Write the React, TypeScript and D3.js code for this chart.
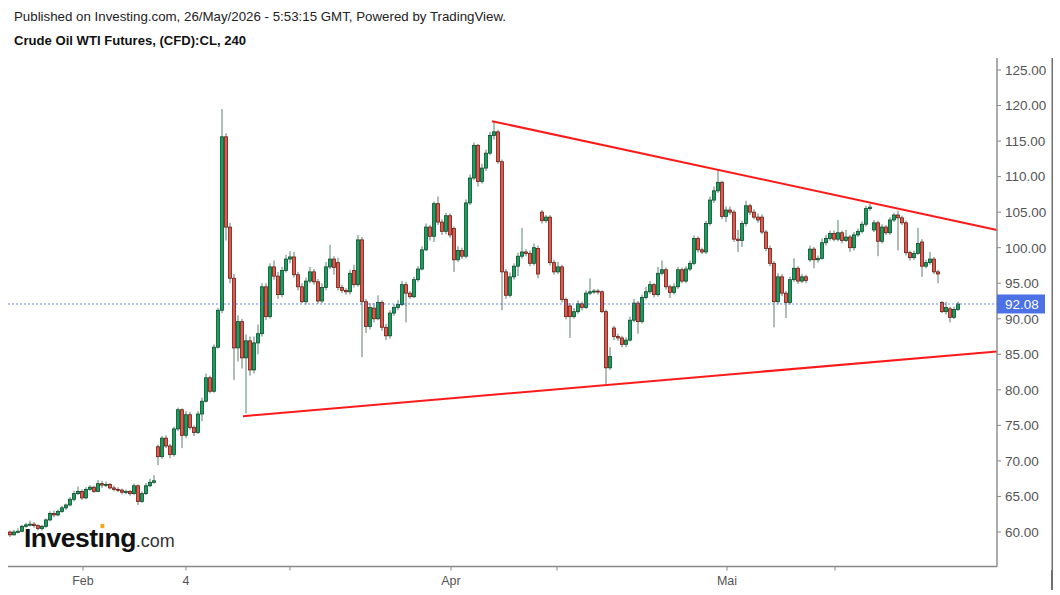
import React from "react";
import * as d3 from "d3";

// ---- Data (4-hour candles) ----
const opens = [
  60.0, 59.6, 60.0, 60.1, 60.8, 61.0, 61.1, 60.9, 60.5, 60.8, 61.7, 62.6, 62.4, 62.9, 63.4, 63.8, 64.6, 65.4, 65.7, 64.8,
  66.0, 66.3, 65.7, 66.8, 66.6, 66.7, 66.2, 66.0, 65.9, 65.6, 65.7, 65.4, 66.5, 64.3, 65.4, 66.5, 67.0, 72.0, 70.6, 73.2,
  72.1, 70.9, 74.5, 77.2, 73.6, 76.5, 74.7, 74.0, 76.6, 78.4, 81.7, 79.8, 86.0, 91.2, 115.6, 102.9, 95.7, 85.9, 89.6, 84.5,
  86.9, 82.8, 86.6, 87.9, 94.5, 90.3, 97.3, 96.0, 93.4, 96.8, 98.4, 98.7, 96.2, 94.5, 92.4, 95.3, 96.6, 95.2, 92.5, 94.4,
  97.3, 98.4, 97.9, 94.4, 94.0, 93.8, 96.8, 94.8, 101.1, 92.4, 88.9, 91.5, 90.0, 92.3, 88.8, 87.6, 90.8, 91.6, 92.0, 94.8,
  93.6, 93.1, 95.5, 97.0, 99.7, 102.9, 101.6, 106.2, 103.6, 102.3, 104.5, 102.7, 98.3, 99.6, 98.8, 106.3, 109.8, 114.4, 109.3, 111.2,
  113.3, 115.8, 116.3, 112.1, 96.6, 93.3, 95.9, 97.4, 98.8, 99.4, 99.2, 97.8, 99.9, 105.0, 103.8, 104.3, 97.9, 96.6, 97.3, 92.7,
  91.8, 90.3, 91.0, 92.1, 91.6, 93.6, 93.8, 93.9, 93.8, 91.0, 83.1, 88.7, 87.5, 87.3, 86.4, 87.0, 89.8, 92.2, 89.6, 93.0,
  93.8, 94.8, 93.4, 96.4, 96.9, 94.5, 93.7, 94.5, 96.9, 95.3, 97.0, 97.8, 101.3, 99.7, 99.4, 103.4, 106.7, 108.0, 109.2, 104.4,
  105.3, 105.0, 101.2, 101.0, 103.4, 105.9, 105.0, 104.3, 104.3, 102.2, 99.9, 97.8, 92.4, 95.9, 93.6, 92.3, 95.5, 97.1, 95.3, 95.9,
  98.3, 99.8, 98.3, 98.5, 100.7, 101.3, 102.0, 101.2, 102.1, 101.0, 101.5, 100.0, 101.8, 102.3, 103.3, 105.5, 102.5, 103.5, 100.9, 102.9,
  102.1, 103.9, 104.6, 104.2, 103.5, 99.3, 98.6, 99.2, 100.8, 97.4, 97.9, 98.4, 96.6, 92.3, 91.0, 91.4, 90.2, 91.3,
];
const highs = [
  60.2, 60.3, 60.5, 61.0, 61.3, 61.6, 61.4, 61.1, 61.0, 61.9, 62.9, 63.0, 63.2, 63.7, 64.0, 64.9, 65.8, 66.4, 66.0, 66.3,
  66.6, 66.5, 67.3, 67.2, 67.1, 66.9, 66.5, 66.3, 66.1, 66.0, 65.9, 66.8, 66.7, 65.7, 66.9, 67.5, 68.0, 72.3, 73.5, 73.6,
  72.4, 74.8, 77.5, 77.4, 77.0, 76.9, 75.0, 77.0, 78.9, 82.3, 82.0, 86.4, 91.5, 119.5, 116.1, 103.5, 96.3, 90.5, 90.0, 87.8,
  87.5, 87.5, 89.2, 95.0, 95.0, 97.8, 98.2, 96.6, 97.3, 99.0, 99.5, 99.4, 96.6, 95.0, 95.8, 97.3, 97.0, 95.6, 95.0, 98.0,
  100.4, 98.8, 98.6, 94.8, 94.3, 96.9, 97.6, 101.8, 101.5, 92.8, 92.2, 92.2, 93.3, 92.6, 89.3, 91.2, 92.0, 92.6, 95.3, 95.2,
  93.9, 95.9, 97.4, 100.2, 103.4, 103.2, 106.5, 107.2, 104.0, 104.9, 104.8, 103.0, 100.2, 100.0, 106.8, 110.3, 114.8, 114.6, 111.8, 113.8,
  116.3, 117.7, 116.6, 112.4, 97.0, 96.5, 97.8, 99.3, 102.8, 99.8, 99.6, 100.6, 100.3, 105.3, 104.6, 104.6, 98.3, 98.0, 97.6, 93.0,
  92.2, 91.5, 92.6, 92.4, 94.0, 95.7, 94.2, 94.2, 94.0, 91.3, 86.0, 89.0, 87.9, 87.6, 87.4, 90.3, 92.8, 92.5, 93.4, 94.5,
  95.3, 95.0, 97.3, 98.2, 97.2, 94.8, 95.0, 97.3, 97.2, 97.4, 98.2, 101.7, 101.6, 100.0, 103.8, 107.2, 108.6, 110.9, 109.4, 105.8,
  105.8, 105.3, 102.5, 103.8, 106.6, 106.2, 105.4, 104.8, 104.7, 102.5, 100.3, 98.1, 96.4, 96.3, 93.9, 95.9, 98.5, 97.4, 96.3, 96.2,
  100.3, 100.1, 98.9, 101.3, 101.8, 102.4, 102.4, 103.9, 102.4, 102.5, 101.8, 102.2, 102.7, 103.7, 105.9, 106.2, 103.9, 103.8, 103.3, 103.2,
  104.3, 104.9, 105.2, 104.5, 103.8, 99.6, 99.6, 102.8, 101.2, 98.3, 99.4, 98.7, 96.9, 92.5, 92.4, 91.7, 91.7, 92.4,
];
const lows = [
  59.3, 59.5, 59.8, 60.0, 60.6, 60.8, 60.6, 60.2, 60.2, 60.6, 61.5, 62.1, 62.2, 62.7, 63.1, 63.6, 64.3, 65.2, 64.5, 64.6,
  65.8, 65.5, 65.6, 66.2, 66.3, 66.0, 65.7, 65.6, 65.3, 65.3, 65.1, 65.2, 63.8, 64.1, 65.2, 66.3, 66.8, 69.4, 70.3, 71.8,
  70.4, 70.6, 74.2, 71.8, 73.2, 74.4, 73.5, 73.8, 75.6, 78.2, 79.5, 79.6, 85.8, 90.8, 101.0, 95.0, 81.4, 84.0, 83.0, 76.7,
  82.0, 82.3, 85.0, 87.5, 89.8, 90.0, 95.5, 92.8, 93.0, 96.5, 97.8, 95.8, 94.0, 92.2, 92.0, 95.0, 94.8, 92.1, 92.2, 94.0,
  97.0, 96.2, 94.0, 93.6, 93.4, 93.4, 94.4, 94.5, 84.6, 88.0, 88.5, 89.5, 89.8, 88.3, 87.0, 87.2, 90.4, 91.2, 91.8, 89.5,
  92.8, 92.9, 95.2, 96.8, 99.5, 101.0, 100.8, 103.2, 101.8, 101.9, 101.4, 96.6, 98.0, 98.4, 98.5, 106.0, 109.5, 108.6, 109.0, 110.8,
  113.0, 115.2, 111.8, 91.2, 92.8, 93.0, 95.5, 96.0, 98.5, 98.8, 97.4, 97.5, 95.7, 103.4, 103.5, 97.5, 96.2, 96.3, 92.3, 89.9,
  87.3, 90.0, 90.7, 91.2, 91.4, 93.3, 93.5, 93.4, 90.8, 80.7, 82.8, 87.0, 86.9, 86.0, 86.0, 86.8, 89.5, 87.9, 89.3, 92.7,
  93.5, 93.0, 93.1, 96.1, 94.1, 92.9, 93.4, 94.2, 95.0, 95.0, 96.7, 97.5, 99.3, 99.1, 99.1, 103.1, 106.3, 107.7, 104.0, 103.6,
  104.6, 100.8, 99.4, 100.1, 103.0, 104.6, 104.0, 103.5, 101.9, 99.5, 97.4, 88.8, 92.0, 93.2, 90.1, 92.0, 95.2, 94.9, 95.0, 95.0,
  98.0, 97.1, 97.9, 98.3, 100.3, 101.0, 100.9, 100.9, 100.6, 100.8, 99.4, 99.6, 101.5, 102.0, 103.0, 105.2, 102.2, 98.8, 100.6, 101.8,
  101.8, 103.6, 99.6, 103.2, 98.9, 98.2, 98.3, 99.0, 95.9, 97.1, 97.6, 96.3, 95.0, 90.8, 90.6, 89.5, 90.0, 91.1,
];
const closes = [
  59.6, 60.0, 60.1, 60.8, 61.0, 61.1, 60.9, 60.5, 60.8, 61.7, 62.6, 62.4, 62.9, 63.4, 63.8, 64.6, 65.4, 65.7, 64.8, 66.0,
  66.3, 65.7, 66.8, 66.6, 66.7, 66.2, 66.0, 65.9, 65.6, 65.7, 65.4, 66.5, 64.3, 65.4, 66.5, 67.0, 67.2, 70.6, 73.2, 72.1,
  70.9, 74.5, 77.2, 73.6, 76.5, 74.7, 74.0, 76.6, 78.4, 81.7, 79.8, 86.0, 91.2, 115.6, 102.9, 95.7, 85.9, 89.6, 84.5, 86.9,
  82.8, 86.6, 87.9, 94.5, 90.3, 97.3, 96.0, 93.4, 96.8, 98.4, 98.7, 96.2, 94.5, 92.4, 95.3, 96.6, 95.2, 92.5, 94.4, 97.3,
  98.4, 97.2, 94.4, 94.0, 93.8, 96.4, 94.8, 101.1, 92.4, 88.9, 91.6, 90.0, 92.3, 88.8, 87.6, 90.8, 91.6, 92.0, 94.8, 93.6,
  93.1, 95.5, 97.0, 99.7, 102.9, 101.6, 106.2, 103.6, 102.3, 104.5, 101.8, 98.3, 99.6, 98.8, 106.3, 109.8, 114.4, 109.3, 111.2, 113.3,
  115.8, 116.3, 112.1, 96.6, 93.3, 95.9, 97.4, 98.8, 99.4, 99.2, 97.8, 100.0, 96.3, 103.8, 104.3, 97.9, 96.6, 97.3, 92.7, 90.3,
  90.3, 91.0, 92.1, 91.6, 93.6, 93.8, 93.9, 93.8, 91.0, 83.1, 84.7, 87.5, 87.3, 86.4, 87.0, 89.8, 92.2, 89.6, 93.0, 93.8,
  94.8, 93.4, 96.4, 96.9, 94.5, 93.7, 94.5, 96.9, 95.3, 97.0, 97.8, 101.3, 99.7, 99.4, 103.4, 106.7, 108.0, 109.2, 104.4, 105.3,
  105.0, 101.2, 101.0, 103.4, 105.9, 105.0, 104.3, 103.9, 102.2, 99.9, 97.8, 92.4, 95.9, 93.6, 92.3, 95.5, 97.1, 95.3, 95.9, 95.4,
  99.8, 98.3, 98.5, 100.7, 101.3, 102.0, 101.2, 102.1, 101.0, 101.5, 100.0, 101.8, 102.3, 103.3, 105.5, 105.7, 103.5, 100.9, 102.9, 102.1,
  103.9, 104.6, 104.2, 103.5, 99.3, 98.6, 99.2, 100.6, 97.4, 97.9, 98.4, 96.6, 96.3, 91.0, 91.6, 90.2, 91.3, 92.08,
];

const lastPrice = 92.08;
const priceTicks = [60, 65, 70, 75, 80, 85, 90, 95, 100, 105, 110, 115, 120, 125];
// time axis: candle index of each tick and its label
const timeTickIdx = [18.25, 44, 70, 110.25, 136.75, 179.25, 206.25];
const timeTickLabels = ["Feb", "4", "", "Apr", "", "Mai", ""];
// trend lines: [candle index, price]
const resistanceLine: [number, number][] = [[120.5, 117.8], [246.75, 102.5]];
const supportLine: [number, number][] = [[58.25, 76.3], [246.75, 85.4]];

const W = 1060;
const H = 595;
const FONT = "'Liberation Sans', Arial, sans-serif";

export default function App() {
  const n = closes.length;
  const x = d3.scaleLinear().domain([0, n - 1]).range([10, 958]);
  const y = d3.scaleLinear().domain([60, 125]).range([532, 70]);
  const axisX = 997;
  const axisY = 566.5;
  const bodyW = 3;
  const line = d3
    .line<[number, number]>()
    .x((d) => x(d[0]))
    .y((d) => y(d[1]));

  const candles = d3.range(n).map((i) => {
    const o = opens[i];
    const c = closes[i];
    const up = c >= o;
    const cx = x(i);
    const top = y(Math.max(o, c));
    const bot = y(Math.min(o, c));
    return (
      <g key={i}>
        <line
          x1={cx}
          x2={cx}
          y1={y(highs[i])}
          y2={y(lows[i])}
          stroke={up ? "#1f5c3c" : "#2f4f3a"}
          strokeOpacity={0.75}
          strokeWidth={1}
        />
        <rect
          x={cx - bodyW / 2}
          y={top}
          width={bodyW}
          height={Math.max(1, bot - top)}
          fill={up ? "#16a05e" : "#e0574c"}
          stroke={up ? "#0d4a2c" : "#6a1d15"}
          strokeWidth={0.8}
        />
      </g>
    );
  });

  const py = y(lastPrice);

  return (
    <svg
      width={W}
      height={H}
      style={{ position: "absolute", left: 0, top: 0, background: "#fff" }}
      fontFamily={FONT}
    >
      <rect x={0} y={0} width={W} height={H} fill="#fff" />
      <text x={14} y={21} fontSize={13.3} fill="#222">
        Published on Investing.com, 26/May/2026 - 5:53:15 GMT, Powered by TradingView.
      </text>
      <text x={14} y={45} fontSize={13.1} fontWeight="bold" fill="#111">
        Crude Oil WTI Futures, (CFD):CL, 240
      </text>

      {/* frame edge */}
      <line x1={1052} x2={1052} y1={58} y2={590} stroke="#111" strokeWidth={1.2} />

      {/* logo */}
      <g>
        <text x={24} y={547} fontSize={26.5} fontWeight="bold" fill="#111" letterSpacing={-0.5}>
          Investıng
          <tspan fontSize={18} fontWeight="normal" fill="#333" letterSpacing={0}>
            .com
          </tspan>
        </text>
        <rect x={100.5} y={524} width={3.8} height={4.2} fill="#f5a31a" />
      </g>

      {/* candles */}
      <g>{candles}</g>

      {/* last price dashed line */}
      <line
        x1={8}
        x2={axisX}
        y1={py}
        y2={py}
        stroke="#3d62dc"
        strokeWidth={0.8}
        strokeDasharray="2,2"
      />

      {/* trend lines */}
      <path d={line(resistanceLine) || ""} stroke="#ff1a1a" strokeWidth={2} fill="none" />
      <path d={line(supportLine) || ""} stroke="#ff1a1a" strokeWidth={2} fill="none" />

      {/* white cover beyond axis */}
      <rect x={axisX + 0.5} y={58} width={54} height={512} fill="#fff" />

      {/* right price axis */}
      <line x1={axisX} x2={axisX} y1={58} y2={axisY} stroke="#888" strokeWidth={1.4} />
      {priceTicks.map((t) => (
        <g key={t}>
          <line x1={axisX} x2={axisX + 4} y1={y(t)} y2={y(t)} stroke="#888" strokeWidth={1} />
          <text x={1005} y={y(t)} dy="0.36em" fontSize={13.5} fill="#555">
            {t.toFixed(2)}
          </text>
        </g>
      ))}
      <rect x={axisX} y={py - 9.5} width={48} height={19} fill="#4b71e4" />
      <text x={1005} y={py} dy="0.36em" fontSize={13.5} fill="#fff">
        {lastPrice.toFixed(2)}
      </text>

      {/* bottom time axis */}
      <line x1={8} x2={axisX} y1={axisY} y2={axisY} stroke="#888" strokeWidth={1.4} />
      {timeTickIdx.map((t, k) => (
        <g key={k}>
          <line x1={x(t)} x2={x(t)} y1={axisY} y2={axisY + 4} stroke="#888" strokeWidth={1} />
          <text x={x(t)} y={585} textAnchor="middle" fontSize={12.5} fill="#555">
            {timeTickLabels[k]}
          </text>
        </g>
      ))}
    </svg>
  );
}
